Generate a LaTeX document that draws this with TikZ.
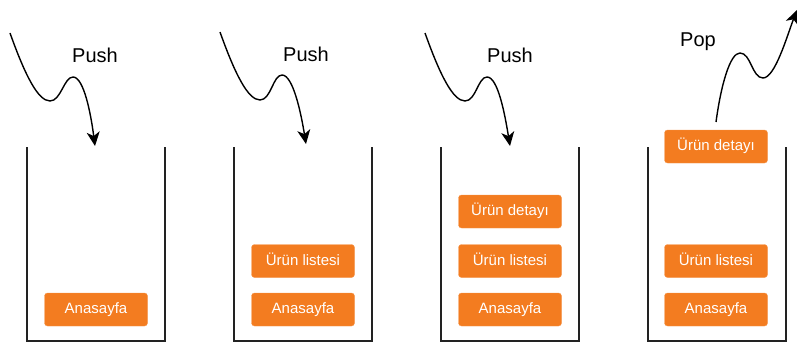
\documentclass[tikz,border=0pt]{standalone}
\usepackage{fontspec}
\setmainfont{Liberation Sans}
\usetikzlibrary{arrows.meta}
\definecolor{boxorange}{HTML}{F37C20}
\definecolor{wallgray}{HTML}{222222}
\tikzset{
  page/.style={fill=boxorange, draw=boxorange!80!white, rounded corners=3pt,
    minimum width=103pt, minimum height=33pt, inner sep=0pt,
    text=white, font=\fontsize{15pt}{17pt}\selectfont,
    text height=11pt, text depth=3pt},
  wall/.style={draw=wallgray, line width=1.5pt},
  label/.style={font=\fontsize{20pt}{22pt}\selectfont, anchor=base, inner sep=0pt},
  swing/.style={line width=1.4pt, -{Stealth[length=14pt,width=13pt,inset=4pt]}}
}
\begin{document}
\begin{tikzpicture}[x=1pt,y=-1pt]
\useasboundingbox (0,0) rectangle (797,345);
% containers
\foreach \x [count=\i] in {27,234,441,648} {
  \draw[wall] (\x,147) -- (\x,341) -- (\x+138,341) -- (\x+138,147);
}
% stack 1
\node[page] (a1) at (96,309.5) {Anasayfa};
% stack 2
\node[page] (b1) at (303,309.5) {Anasayfa};
\node[page] (b2) at (303,261) {Ürün listesi};
% stack 3
\node[page] (c1) at (510,309.5) {Anasayfa};
\node[page] (c2) at (510,261) {Ürün listesi};
\node[page] (c3) at (510,211.5) {Ürün detayı};
% stack 4
\node[page] (d1) at (716,309.5) {Anasayfa};
\node[page] (d2) at (716,261) {Ürün listesi};
\node[page] (d3) at (716,146.5) {Ürün detayı};
% labels
\node[label] (l1) at (95,63) {Push};
\node[label] (l2) at (306,61) {Push};
\node[label] (l3) at (510,63) {Push};
\node[label] (l4) at (698,47) {Pop};
% curves
\draw[swing] (10,33) .. controls (25,75) and (38,101) .. (50,101)
  .. controls (61,101) and (64,77) .. (73,77)
  .. controls (84,77) and (91,115) .. (95,146);
\draw[swing] (220,32) .. controls (235,74) and (248,100) .. (260,100)
  .. controls (271,100) and (273,75) .. (282,75)
  .. controls (293,75) and (301,113) .. (306,144);
\draw[swing] (425,33) .. controls (440,75) and (453,101) .. (465,101)
  .. controls (476,101) and (478,77) .. (487,77)
  .. controls (498,77) and (505,115) .. (510,146);
\draw[swing] (716,122) .. controls (721,85) and (730,53) .. (740,53)
  .. controls (751,53) and (752,78) .. (763,78)
  .. controls (775,78) and (787,36) .. (797,10);
\end{tikzpicture}
\end{document}
